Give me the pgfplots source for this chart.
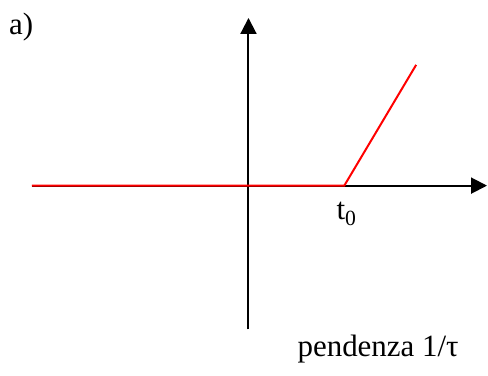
\documentclass[border=0pt]{standalone}
\usepackage{pgfplots}
\pgfplotsset{compat=1.18}
\usetikzlibrary{arrows.meta}
\usepackage{fontspec}
\setmainfont{Liberation Serif}
\begin{document}
\begin{tikzpicture}
\begin{axis}[
  scale only axis, width=488pt, height=376pt,
  xmin=-249, xmax=239, ymin=-190, ymax=186,
  hide axis, clip=false,
]
% keep the full plotting area as the picture's extent
\path (rel axis cs:0,0) rectangle (rel axis cs:1,1);
% coordinate axes
\draw[line width=2pt, -{Triangle[length=16pt,width=16pt]}] (axis cs:-217,0) -- (axis cs:239,0);
\draw[line width=2pt, -{Triangle[length=16pt,width=16pt]}] (axis cs:0,-144) -- (axis cs:0,168);
% ramp starting at t0
\addplot[red, line width=2pt] coordinates {(-217,0) (96,0) (168,121)};
\node[anchor=base west, inner sep=0pt, font=\fontsize{31}{37}\selectfont] at (axis cs:-240,151) {a)};
\node[anchor=base west, inner sep=0pt, font=\fontsize{31}{37}\selectfont] at (axis cs:88,-34) {t\textsubscript{0}};
\node[anchor=base west, inner sep=0pt, font=\fontsize{31}{37}\selectfont] at (axis cs:49,-171) {pendenza 1/τ};
\end{axis}
\end{tikzpicture}
\end{document}
